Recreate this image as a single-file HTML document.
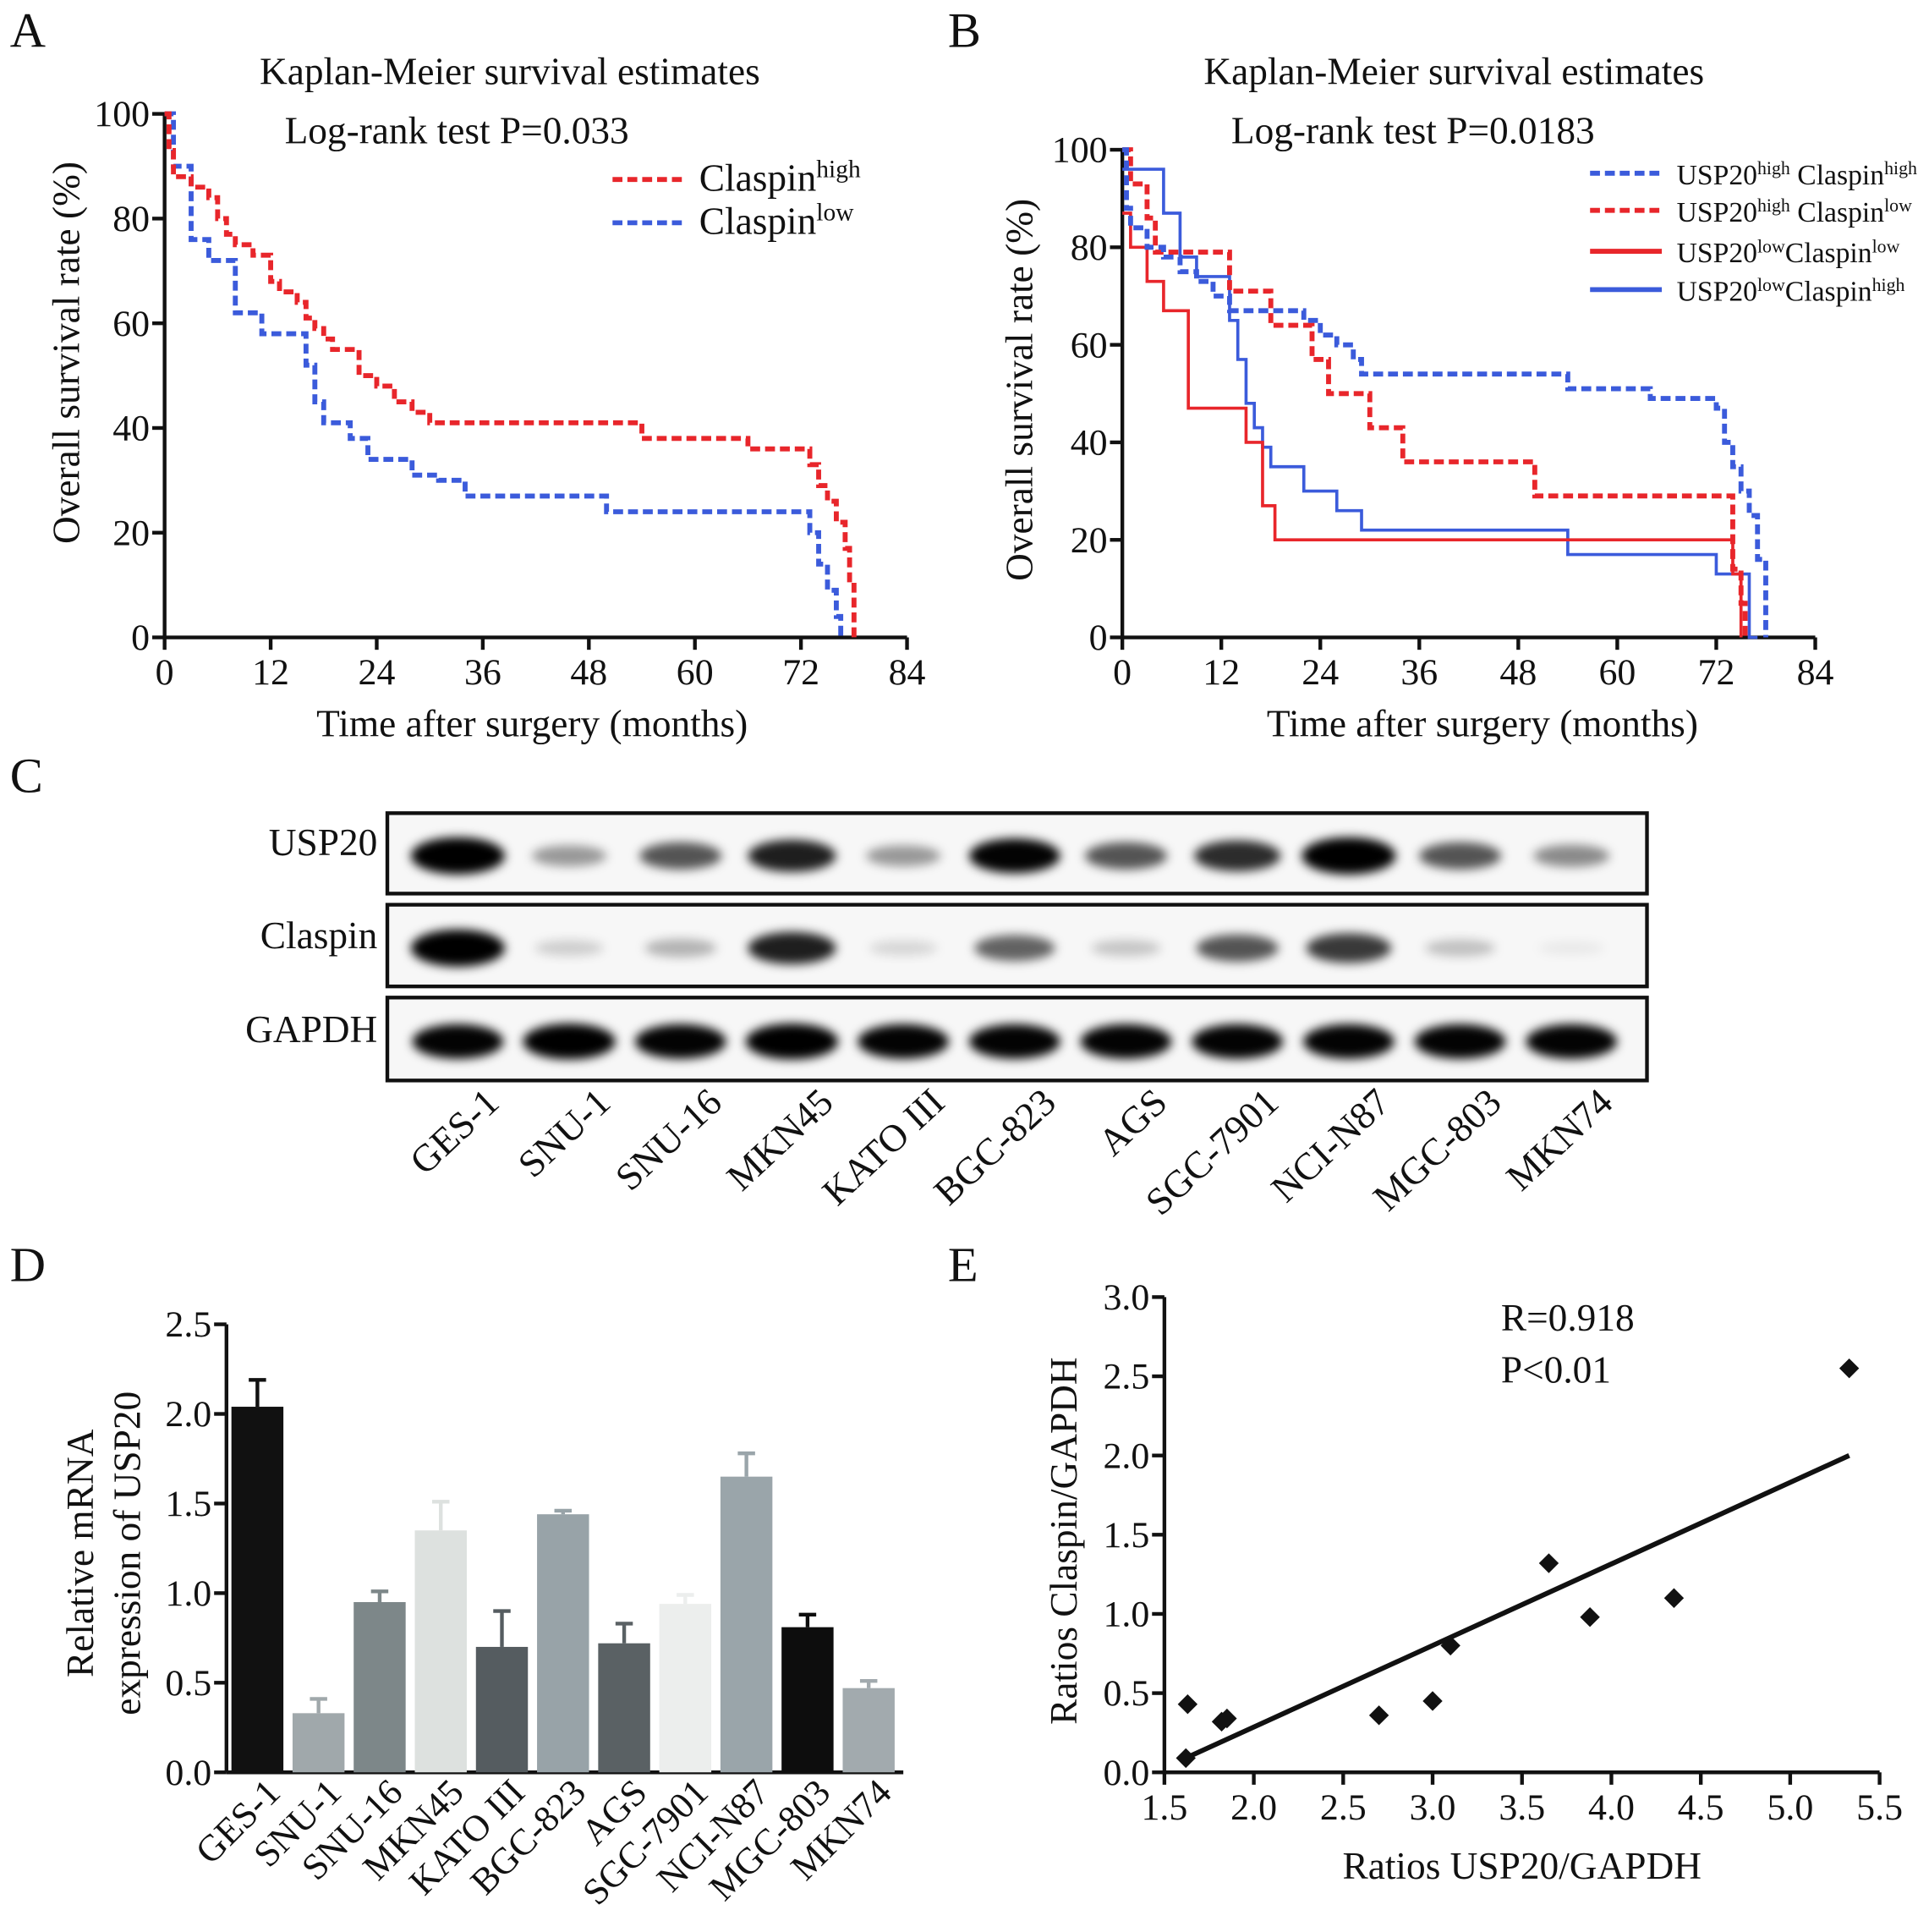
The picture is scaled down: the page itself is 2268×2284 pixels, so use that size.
<!DOCTYPE html>
<html><head><meta charset="utf-8"><style>
html,body{margin:0;padding:0;background:#fff}
svg{display:block}
text{font-family:"Liberation Serif",serif;fill:#111}
</style></head><body>
<svg id="fig" width="2268" height="2284" viewBox="0 0 1550 1561">
<defs><filter id="blur" x="-50%" y="-50%" width="200%" height="200%"><feGaussianBlur stdDeviation="4"/></filter></defs>
<g id="static">
<text x="8" y="38" font-size="40">A</text>
<text x="766" y="38" font-size="40">B</text>
<text x="8" y="640" font-size="40">C</text>
<text x="8" y="1035" font-size="40">D</text>
<text x="766" y="1035" font-size="40">E</text>
<text x="412" y="68" font-size="31" text-anchor="middle">Kaplan-Meier survival estimates</text>
<text x="230" y="116" font-size="31">Log-rank test P=0.033</text>
<text x="1175" y="68" font-size="31" text-anchor="middle">Kaplan-Meier survival estimates</text>
<text x="995" y="116" font-size="31">Log-rank test P=0.0183</text>
<text x="430" y="595" font-size="31" text-anchor="middle">Time after surgery (months)</text>
<text x="1198" y="595" font-size="31" text-anchor="middle">Time after surgery (months)</text>
<text transform="translate(64,285) rotate(-90)" font-size="31" text-anchor="middle">Overall survival rate (%)</text>
<text transform="translate(834,315) rotate(-90)" font-size="31" text-anchor="middle">Overall survival rate (%)</text>
<text transform="translate(75,1255) rotate(-90)" font-size="31" text-anchor="middle">Relative mRNA</text>
<text transform="translate(113,1255) rotate(-90)" font-size="31" text-anchor="middle">expression of USP20</text>
<text transform="translate(870,1245) rotate(-90)" font-size="31" text-anchor="middle">Ratios Claspin/GAPDH</text>
<text x="1230" y="1518" font-size="31" text-anchor="middle">Ratios USP20/GAPDH</text>
<text x="1213" y="1075" font-size="31">R=0.918</text>
<text x="1213" y="1117" font-size="31">P&lt;0.01</text>
<text x="305" y="691" font-size="31" text-anchor="end">USP20</text>
<text x="305" y="766" font-size="31" text-anchor="end">Claspin</text>
<text x="305" y="842" font-size="31" text-anchor="end">GAPDH</text>
</g>
<g id="dyn"></g>
</svg>
<script>
const NS="http://www.w3.org/2000/svg";
const root=document.getElementById('dyn');
function mk(tag,attrs,parent){const e=document.createElementNS(NS,tag);for(const k in attrs)e.setAttribute(k,attrs[k]);(parent||root).appendChild(e);return e;}

// ---- Panel A data ----
const aTicksX=[0,12,24,36,48,60,72,84];
const aTicksY=[0,20,40,60,80,100];
const aHighT=[0,0.5,1,3,5,6,7,8,10,12,13,15,16,17,18,19,22,24,26,28,30,54,66,73,74,75,76,77,77.5,78];
const aHighS=[100,93,88,86,84,80,77,75,73,68,66,64,61,59,57,55,50,48,45,43,41,38,36,33,29,26,22,17,11,0];
const aLowT=[0,1,3,5,8,11,16,17,18,21,23,28,31,34,50,73,74,75,76,76.5];
const aLowS=[100,90,76,72,62,58,52,45,41,38,34,31,30,27,24,20,14,9,4,0];
// ---- Panel B data ----
const bTicksX=[0,12,24,36,48,60,72,84];
const bTicksY=[0,20,40,60,80,100];
const bHHT=[0,0.5,1,3,5,7,9,11,13,22,24,26,28,29,54,64,72,73,74,75,76,77,78];
const bHHS=[100,88,84,80,78,75,73,70,67,65,62,60,57,54,51,49,47,40,35,30,25,16,0];
const bHLT=[0,1,3,4,10,13,18,23,25,30,34,50,73,74,75,75.5];
const bHLS=[100,93,86,79,79,71,64,57,50,43,36,29,29,14,7,0];
const bLLT=[0,1,3,5,8,15,17,18.5,73,74,75];
const bLLS=[87,80,73,67,47,40,27,20,20,13,0];
const bLHT=[0,5,7,9,13,14,15,16,17,18,22,26,29,54,72,76,77];
const bLHS=[96,87,78,74,65,57,48,43,39,35,30,26,22,17,13,0,0];
// ---- Panel C data ----
const lanes=['GES-1','SNU-1','SNU-16','MKN45','KATO III','BGC-823','AGS','SGC-7901','NCI-N87','MGC-803','MKN74'];
const usp20Int=[1.0,0.35,0.6,0.8,0.35,0.9,0.6,0.75,1.0,0.6,0.4];
const claspinInt=[1.0,0.15,0.25,0.8,0.12,0.55,0.18,0.6,0.7,0.2,0.05];
const gapdhInt=[0.9,0.95,0.9,0.95,0.9,0.9,0.9,0.9,0.9,0.9,0.9];
// ---- Panel D data ----
const dCats=lanes;
const dVals=[2.04,0.33,0.95,1.35,0.70,1.44,0.72,0.94,1.65,0.81,0.47];
const dErr=[0.15,0.08,0.06,0.16,0.20,0.02,0.11,0.05,0.13,0.07,0.04];
const dTicks=[0.0,0.5,1.0,1.5,2.0,2.5];
const dTickLabels=['0.0','0.5','1.0','1.5','2.0','2.5'];
// ---- Panel E data ----
const eX=[1.62,1.63,1.82,1.85,2.7,3.0,3.1,3.65,3.88,4.35,5.33];
const eY=[0.09,0.43,0.32,0.34,0.36,0.45,0.8,1.32,0.98,1.1,2.55];
const eFitX=[1.6,5.33];
const eFitY=[0.08,2.0];
const eTicksX=[1.5,2.0,2.5,3.0,3.5,4.0,4.5,5.0,5.5];
const eTicksY=[0.0,0.5,1.0,1.5,2.0,2.5,3.0];

function axes(name,x0,x1,y0,y1,xs,ys,xt,yt,fmtX,fmtY,fs){
  const g=mk('g',{});
  
  
  mk('line',{x1:x0,y1:y0,x2:x0,y2:y1,stroke:'#111','stroke-width':3},g);
  mk('line',{x1:x0,y1:y0,x2:x1,y2:y0,stroke:'#111','stroke-width':3},g);
  xt.forEach(v=>{const x=xs(v);mk('line',{x1:x,y1:y0,x2:x,y2:y0+10,stroke:'#111','stroke-width':3},g);
    const t=mk('text',{x:x,y:y0+38,'font-size':fs,'text-anchor':'middle'},g);t.textContent=fmtX(v);
    
    });
  yt.forEach(v=>{const y=ys(v);mk('line',{x1:x0-10,y1:y,x2:x0,y2:y,stroke:'#111','stroke-width':3},g);
    const t=mk('text',{x:x0-12,y:y+10,'font-size':fs,'text-anchor':'end'},g);t.textContent=fmtY(v);
    
    });
}
function step(T,S,xs,ys){let d='M'+xs(T[0])+','+ys(S[0]);for(let i=1;i<T.length;i++){d+=' H'+xs(T[i])+' V'+ys(S[i]);}return d;}

// Panel A
const axA=t=>133+t*600/84, ayA=s=>515-s*4.23;
axes('km-a',133,733,515,92,axA,ayA,aTicksX,aTicksY,String,String,30);
let p=mk('path',{d:step(aLowT,aLowS,axA,ayA),fill:'none',stroke:'#3b5bdb','stroke-width':4,'stroke-dasharray':'8,4'});


p=mk('path',{d:step(aHighT,aHighS,axA,ayA),fill:'none',stroke:'#e8262b','stroke-width':4,'stroke-dasharray':'8,4'});


function legend(x,y,col,dash,label,sup,label2,sup2,fs,name){
  const g=mk('g',{});
  
  
  mk('line',{x1:x,y1:y,x2:x+58,y2:y,stroke:col,'stroke-width':4,'stroke-dasharray':dash},g);
  const t=mk('text',{x:x+70,y:y+9,'font-size':fs},g);
  let s=document.createElementNS(NS,'tspan');s.textContent=label;t.appendChild(s);
  s=document.createElementNS(NS,'tspan');s.setAttribute('font-size',fs*0.65);s.setAttribute('dy',-fs*0.35);s.textContent=sup;t.appendChild(s);
  if(label2){s=document.createElementNS(NS,'tspan');s.setAttribute('dy',fs*0.35);s.textContent=label2;t.appendChild(s);
  s=document.createElementNS(NS,'tspan');s.setAttribute('font-size',fs*0.65);s.setAttribute('dy',-fs*0.35);s.textContent=sup2;t.appendChild(s);}
}
legend(495,145,'#e8262b','8,4','Claspin','high',null,null,31,'legend-claspin-high');
legend(495,180,'#3b5bdb','8,4','Claspin','low',null,null,31,'legend-claspin-low');

// Panel B
const axB=t=>907+t*560/84, ayB=s=>515-s*3.94;
axes('km-b',907,1467,515,121,axB,ayB,bTicksX,bTicksY,String,String,30);
[[bLHT,bLHS,'#3b5bdb','none','usp20-low-claspin-high-curve',2.5],[bLLT,bLLS,'#e8262b','none','usp20-low-claspin-low-curve',2.5],
 [bHLT,bHLS,'#e8262b','8,4','usp20-high-claspin-low-curve',4],[bHHT,bHHS,'#3b5bdb','8,4','usp20-high-claspin-high-curve',4]].forEach(a=>{
  const q=mk('path',{d:step(a[0],a[1],axB,ayB),fill:'none',stroke:a[2],'stroke-width':a[5],'stroke-dasharray':a[3]});
  
  
});
legend(1285,140,'#3b5bdb','8,4','USP20','high',' Claspin','high',23,'legend-hh');
legend(1285,170,'#e8262b','8,4','USP20','high',' Claspin','low',23,'legend-hl');
legend(1285,203,'#e8262b','none','USP20','low','Claspin','low',23,'legend-ll');
legend(1285,234,'#3b5bdb','none','USP20','low','Claspin','high',23,'legend-lh');

// Panel C blot
const laneX=i=>370+i*90;
const rows=[[657,722,usp20Int,'usp20-blot'],[731,797,claspinInt,'claspin-blot'],[806,873,gapdhInt,'gapdh-blot']];
rows.forEach(r=>{
  const g=mk('g',{});
  
  
  mk('rect',{x:313,y:r[0],width:1018,height:r[1]-r[0],fill:'#f7f7f7',stroke:'#111','stroke-width':3},g);
  const cy=(r[0]+r[1])/2;
  r[2].forEach((v,i)=>{
    const e=mk('ellipse',{cx:laneX(i),cy:cy+2,rx:26+v*12,ry:5+v*10,fill:'#000','fill-opacity':Math.min(1,v*1.1),filter:'url(#blur)'},g);
    
    
  });
});
lanes.forEach((l,i)=>{
  const t=mk('text',{transform:'translate('+(laneX(i)+35)+',893) rotate(-43)','font-size':31,'text-anchor':'end'});
  t.textContent=l;
  
  
});

// Panel D
const ayD=v=>1432-v*144.8, bxD=i=>208+i*49.4;
axes('bar-d',183,730,1432,1070,()=>0,ayD,[],dTicks,String,v=>dTickLabels[dTicks.indexOf(v)],30);
const dCols=['#111','#a0a8ab','#7d8789','#dde1df','#555c60','#98a3a8','#5a6164','#eceeed','#9aa5aa','#0d0d0d','#a2aaae'];
dVals.forEach((v,i)=>{
  const x=bxD(i), top=ayD(v), et=ayD(v+dErr[i]);
  mk('line',{x1:x,y1:top,x2:x,y2:et,stroke:dCols[i],'stroke-width':3});
  mk('line',{x1:x-7,y1:et,x2:x+7,y2:et,stroke:dCols[i],'stroke-width':3});
  const r=mk('rect',{x:x-21,y:top,width:42,height:1432-top,fill:dCols[i]});
  
  
  const t=mk('text',{transform:'translate('+(x+20)+',1450) rotate(-45)','font-size':30,'text-anchor':'end'});
  t.textContent=dCats[i];
  
  
});

// Panel E
const axE=v=>941+(v-1.5)*144.5, ayE=v=>1432-v*128;
axes('scatter-e',941,1519,1432,1048,axE,ayE,eTicksX,eTicksY,v=>v.toFixed(1),v=>v.toFixed(1),30);
const fl=mk('line',{x1:axE(eFitX[0]),y1:ayE(eFitY[0]),x2:axE(eFitX[1]),y2:ayE(eFitY[1]),stroke:'#111','stroke-width':4});


eX.forEach((v,i)=>{
  const x=axE(v),y=ayE(eY[i]);
  const d=mk('polygon',{points:(x)+','+(y-8)+' '+(x+8)+','+y+' '+x+','+(y+8)+' '+(x-8)+','+y,fill:'#111'});
  
  
});
</script>
</body></html>
